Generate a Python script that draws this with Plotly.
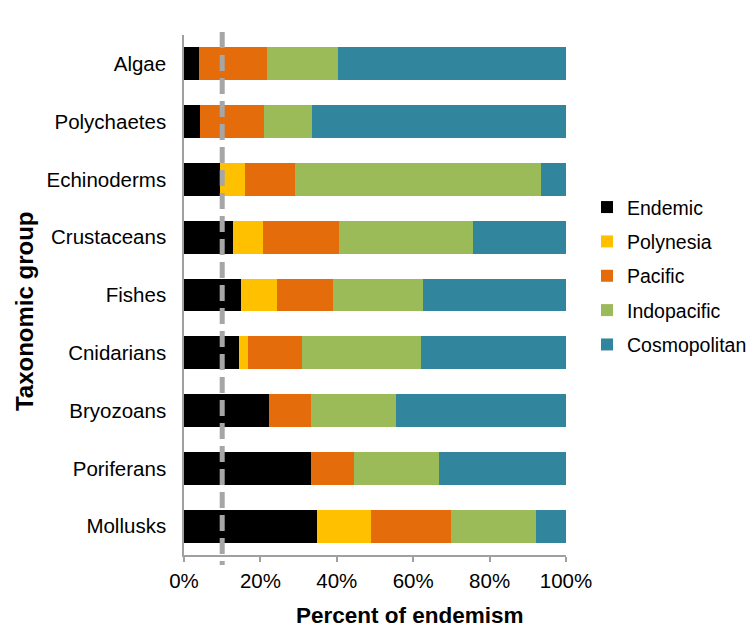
import plotly.graph_objects as go

categories = ["Algae", "Polychaetes", "Echinoderms", "Crustaceans", "Fishes",
              "Cnidarians", "Bryozoans", "Poriferans", "Mollusks"]
endemic      = [3.8, 4.2, 9.5, 12.8, 14.9, 14.3, 22.2, 33.3, 34.7]
polynesia    = [0.0, 0.0, 6.5, 7.8, 9.5, 2.4, 0.0, 0.0, 14.3]
pacific      = [17.9, 16.7, 13.0, 20.1, 14.5, 14.3, 11.1, 11.1, 21.0]
indopacific  = [18.5, 12.5, 64.5, 35.0, 23.6, 31.0, 22.3, 22.3, 22.2]
cosmopolitan = [59.8, 66.6, 6.5, 24.3, 37.5, 38.0, 44.4, 33.3, 7.8]

series_names = ["Endemic", "Polynesia", "Pacific", "Indopacific", "Cosmopolitan"]
series_values = [endemic, polynesia, pacific, indopacific, cosmopolitan]
colors = ["#000000", "#FFC000", "#E46C0A", "#9BBB59", "#31859C"]

x_ticks = [0, 20, 40, 60, 80, 100]
x_tick_labels = ["0%", "20%", "40%", "60%", "80%", "100%"]
threshold = 10

FONT = "Liberation Sans, Arial, sans-serif"

fig = go.Figure()
for name, vals, col in zip(series_names, series_values, colors):
    fig.add_trace(go.Bar(
        y=categories, x=vals, name=name, orientation="h",
        marker=dict(color=col, line=dict(width=0)),
        legendgroup=name,
    ))

fig.add_shape(type="line", xref="x", yref="paper",
              x0=threshold, x1=threshold, y0=1.006, y1=-0.019,
              line=dict(color="#A6A6A6", width=5, dash="16px,7px"),
              layer="above")

fig.add_annotation(text="<b>Percent of endemism</b>", xref="paper", yref="paper",
                   x=0.5916, y=-0.1173, xanchor="center", yanchor="middle",
                   showarrow=False, font=dict(size=22.5, color="#000000", family=FONT))
fig.add_annotation(text="<b>Taxonomic group</b>", xref="paper", yref="paper",
                   x=-0.419, y=0.469, xanchor="center", yanchor="middle",
                   textangle=-90, showarrow=False,
                   font=dict(size=24, color="#000000", family=FONT))

# page body has an 8px margin, so the figure is drawn smaller and offset
fig.update_layout(
    width=747, height=626,
    margin=dict(l=176, r=189, t=27, b=79, pad=0, autoexpand=False),
    barmode="stack", bargap=0.43,
    plot_bgcolor="white", paper_bgcolor="white",
    font=dict(family=FONT, size=20.5, color="#000000"),
    showlegend=True,
    legend=dict(x=1.055, y=0.706, xanchor="left", yanchor="top",
                traceorder="grouped", tracegroupgap=6,
                font=dict(size=19.5, family=FONT, color="#000000"),
                bgcolor="rgba(0,0,0,0)", borderwidth=0),
    xaxis=dict(range=[0, 100], tickvals=x_ticks, ticktext=x_tick_labels,
               tickmode="array", automargin=False,
               showgrid=False, zeroline=False, showline=True,
               linecolor="#A0A0A0", linewidth=1.5,
               ticks="outside", ticklen=5, tickcolor="#A0A0A0", tickwidth=1.5,
               ticklabelstandoff=2,
               tickfont=dict(size=20.5, family=FONT, color="#000000")),
    yaxis=dict(autorange="reversed", showgrid=False, zeroline=False,
               automargin=False,
               showline=True, linecolor="#A0A0A0", linewidth=1.5,
               ticks="", ticklabelstandoff=12,
               tickfont=dict(size=20.5, family=FONT, color="#000000")),
)

fig.write_html("out.html")
